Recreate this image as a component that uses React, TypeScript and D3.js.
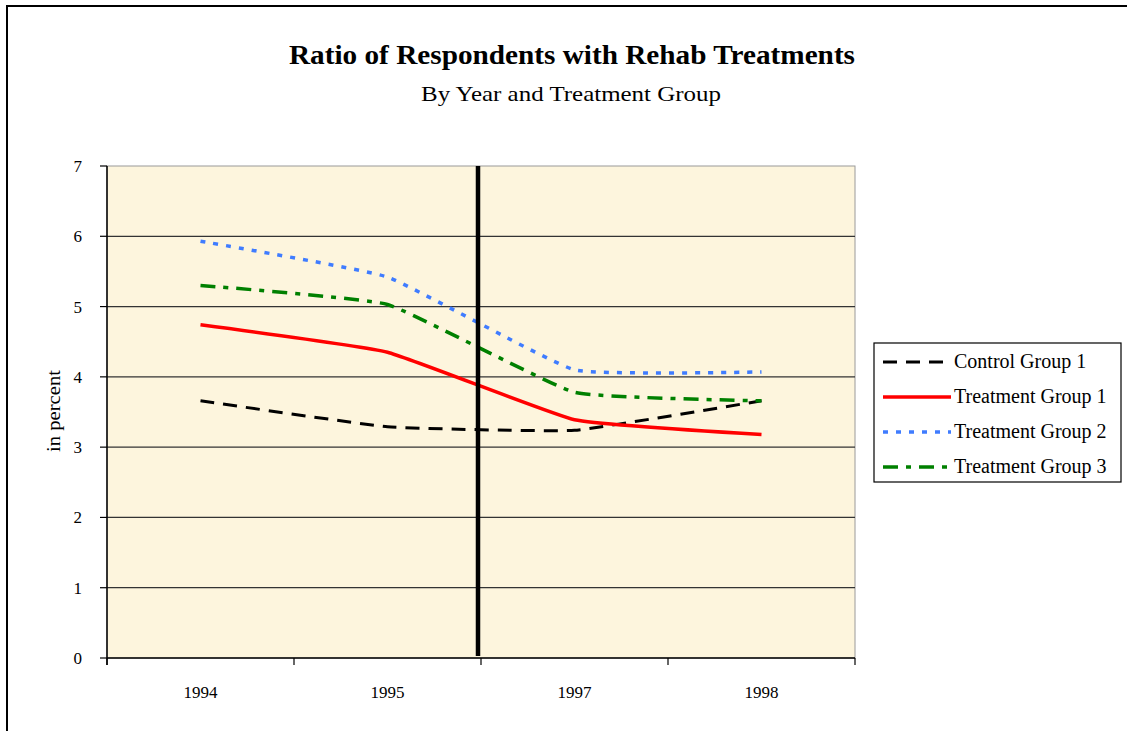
import * as d3 from 'd3';
import React from 'react';

// categories and series
const years = ['1994', '1995', '1997', '1998'];
const controlGroup1 = [3.66, 3.29, 3.24, 3.66];
const treatmentGroup1 = [4.74, 4.35, 3.39, 3.18];
const treatmentGroup2 = [5.93, 5.42, 4.1, 4.07];
const treatmentGroup3 = [5.3, 5.03, 3.78, 3.66];
const seriesNames = ['Control Group 1', 'Treatment Group 1', 'Treatment Group 2', 'Treatment Group 3'];
const yTicks = [0, 1, 2, 3, 4, 5, 6, 7];

const seriesValues = [controlGroup1, treatmentGroup1, treatmentGroup2, treatmentGroup3];
const seriesStyle = [
    { color: '#000000', dash: '14 9', width: 3 },
    { color: '#ff0000', dash: '', width: 3.5 },
    { color: '#3f7cff', dash: '5 8', width: 3.5 },
    { color: '#008000', dash: '15 8 5 8', width: 3.5 },
];

const App: React.FC = () => {
    const width = 1127;
    const height = 731;
    const left = 107;
    const right = 855;
    const top = 166;
    const bottom = 658;
    const font = '"Liberation Serif", "DejaVu Serif", serif';

    // x 축: 범주형 밴드
    const x = d3.scaleBand<string>().domain(years).range([left, right]);
    const y = d3.scaleLinear().domain([0, 7]).range([bottom, top]);

    const line = d3
        .line<number>()
        .x((d, i) => (x(years[i]) ?? 0) + x.bandwidth() / 2)
        .y((d) => y(d))
        .curve(d3.curveCardinal.tension(0.65));

    const boundaries = [...years.map((yr) => x(yr) ?? 0), right];
    const gapX = (x('1997') ?? 0) - 3;

    const legendX = 874;
    const legendY = 343;

    return (
        <svg width={width} height={height} style={{ position: 'absolute', left: 0, top: 0 }}>
            <rect x={0} y={0} width={width} height={height} fill="#ffffff" />
            <path d={`M7,${height} V6 H${width}`} fill="none" stroke="#000" strokeWidth={2} />

            <text x={572} y={64} textAnchor="middle" fontFamily={font} fontWeight="bold" fontSize={27} textLength={566} lengthAdjust="spacingAndGlyphs">
                Ratio of Respondents with Rehab Treatments
            </text>
            <text x={571} y={101} textAnchor="middle" fontFamily={font} fontSize={22} textLength={300} lengthAdjust="spacingAndGlyphs">
                By Year and Treatment Group
            </text>

            {/* plot area */}
            <rect x={left} y={top} width={right - left} height={bottom - top} fill="#fdf5dd" stroke="#9a9a9a" strokeWidth={1} />

            {yTicks.map((t) => (
                <g key={t}>
                    {t > 0 && t < 7 && <line x1={left} x2={right} y1={y(t)} y2={y(t)} stroke="#333" strokeWidth={1.2} />}
                    <line x1={left - 7} x2={left} y1={y(t)} y2={y(t)} stroke="#000" strokeWidth={1.2} />
                    <text x={82} y={y(t) + 6} textAnchor="end" fontFamily={font} fontSize={17}>
                        {t}
                    </text>
                </g>
            ))}

            <line x1={left} x2={left} y1={top} y2={bottom + 7} stroke="#000" strokeWidth={1.5} />
            <line x1={left} x2={right} y1={bottom} y2={bottom} stroke="#000" strokeWidth={1.5} />
            {boundaries.map((b, i) => (
                <line key={i} x1={b} x2={b} y1={bottom} y2={bottom + 7} stroke="#000" strokeWidth={1.2} />
            ))}
            {years.map((yr) => (
                <text
                    key={yr}
                    x={(x(yr) ?? 0) + x.bandwidth() / 2}
                    y={698}
                    textAnchor="middle"
                    fontFamily={font}
                    fontSize={17}
                >
                    {yr}
                </text>
            ))}

            <text
                transform={`translate(60,411) rotate(-90)`}
                textAnchor="middle"
                fontFamily={font}
                fontSize={18}
                textLength={82}
                lengthAdjust="spacingAndGlyphs"
            >
                in percent
            </text>

            {seriesValues.map((vals, i) => (
                <path
                    key={seriesNames[i]}
                    d={line(vals) ?? ''}
                    fill="none"
                    stroke={seriesStyle[i].color}
                    strokeWidth={seriesStyle[i].width}
                    strokeDasharray={seriesStyle[i].dash}
                />
            ))}

            {/* 1996 break marker */}
            <line x1={gapX} x2={gapX} y1={top} y2={bottom - 2} stroke="#000" strokeWidth={4.5} />

            {/* legend */}
            <rect x={legendX} y={legendY} width={247} height={139} fill="#fff" stroke="#000" strokeWidth={1.2} />
            {seriesNames.map((name, i) => {
                const ly = legendY + 19 + i * 35;
                return (
                    <g key={name}>
                        <line
                            x1={legendX + 9}
                            x2={legendX + 77}
                            y1={ly}
                            y2={ly}
                            stroke={seriesStyle[i].color}
                            strokeWidth={seriesStyle[i].width}
                            strokeDasharray={seriesStyle[i].dash}
                        />
                        <text x={legendX + 80} y={ly + 6} fontFamily={font} fontSize={20}>
                            {name}
                        </text>
                    </g>
                );
            })}
        </svg>
    );
};

export default App;
